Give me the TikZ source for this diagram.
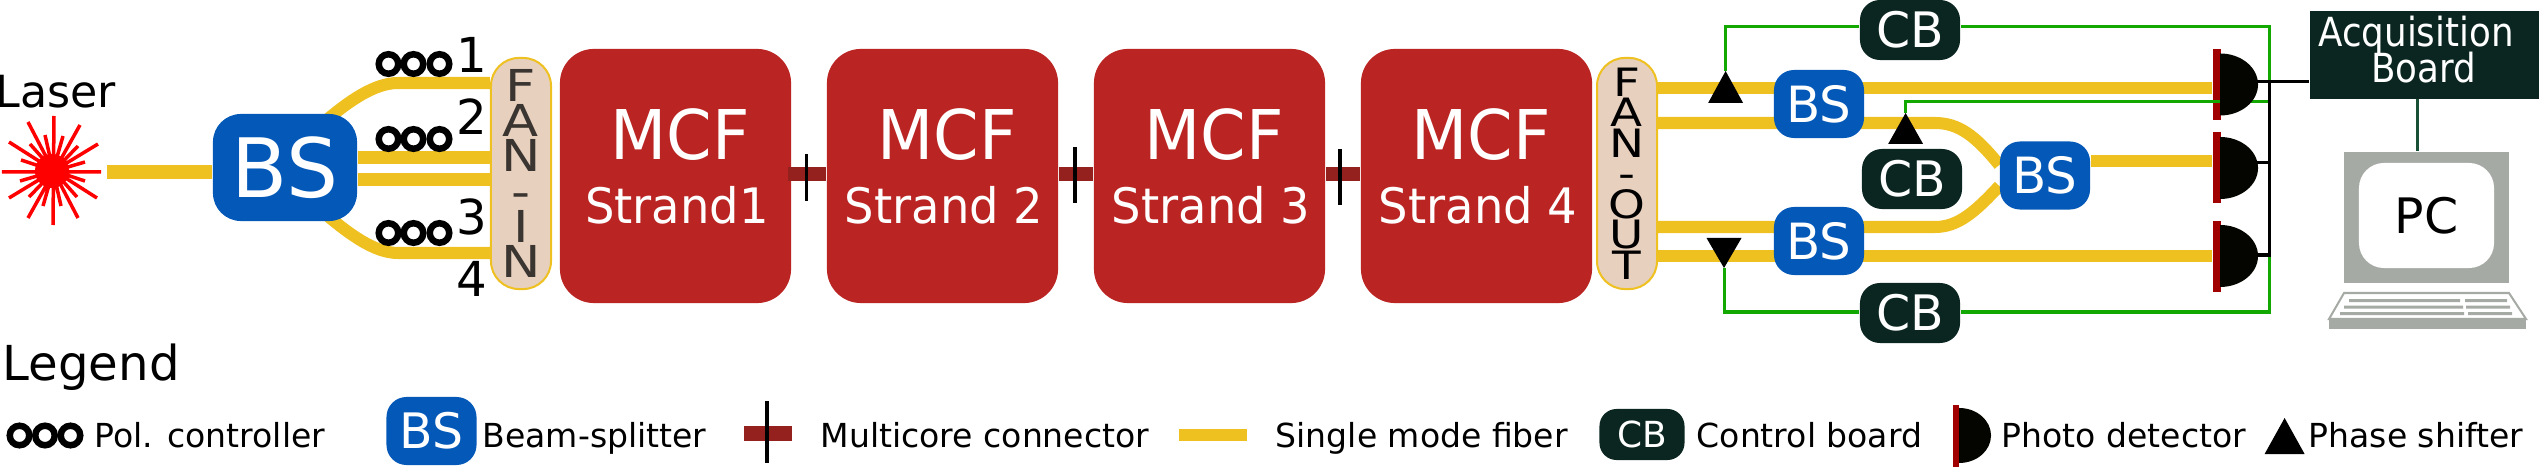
\documentclass[tikz,border=0pt]{standalone}
\usepackage{fontspec}
\setmainfont{DejaVu Sans}
\newfontfamily\acqfont{DejaVu Sans}[FakeStretch=0.89]
\newfontfamily\mcffont{DejaVu Sans}[FakeStretch=0.95]
\newfontfamily\fanfont{DejaVu Sans}[FakeStretch=1.2]
\usetikzlibrary{backgrounds}

\definecolor{fibercol}{HTML}{EEC020}
\definecolor{bscol}{HTML}{0358B8}
\definecolor{mcfcol}{HTML}{BA2422}
\definecolor{mcccol}{HTML}{95211E}
\definecolor{cbcol}{HTML}{0B2620}
\definecolor{fancol}{HTML}{E8D0BF}
\definecolor{fantext}{HTML}{3A3530}
\definecolor{ctrlcol}{HTML}{12A800}
\definecolor{barcol}{HTML}{A00000}
\definecolor{pdcol}{HTML}{050500}
\definecolor{pccol}{HTML}{A6AAA4}
\definecolor{linkcol}{HTML}{1A5035}

\tikzset{
  fiber/.style={draw=fibercol, line width=.12cm},
  ctrl/.style={draw=ctrlcol, line width=.03cm},
  sig/.style={draw=black, line width=.03cm},
  mcc/.style={draw=mcccol, line width=.14cm},
  ring/.style={circle, draw=black, line width=.065cm, minimum size=.195cm, inner sep=0pt},
  bsbox/.style={fill=bscol, text=white, rounded corners=.2cm, inner sep=0pt, minimum width=.9cm, minimum height=.68cm, font=\fontsize{14.2}{17}\selectfont},
  cbbox/.style={fill=cbcol, text=white, rounded corners=.2cm, inner sep=0pt, minimum width=1cm, minimum height=.6cm, font=\fontsize{13.9}{17}\selectfont},
  mcfbox/.style={fill=mcfcol, rounded corners=.34cm, inner sep=0pt, minimum width=2.31cm, minimum height=2.54cm},
  mcftop/.style={text=white, anchor=base, inner sep=0pt, font=\mcffont\fontsize{19.5}{23}\selectfont},
  mcfbot/.style={text=white, anchor=base, inner sep=0pt, font=\mcffont\fontsize{13.9}{17}\selectfont},
  mcmark/.style={fill=black, inner sep=0pt, minimum width=.035cm},
  fanbox/.style={draw=fibercol, fill=fancol, text=fantext, line width=.02cm, rounded corners=.28cm, inner sep=0pt, align=center, minimum height=2.31cm},
  barbox/.style={fill=barcol, inner sep=0pt, minimum width=.08cm, minimum height=.71cm},
  numlab/.style={anchor=base, inner sep=0pt, font=\fontsize{13.7}{16}\selectfont},
  leglab/.style={anchor=base west, inner sep=0pt, font=\fontsize{9.4}{11}\selectfont},
  acqlab/.style={anchor=base, text=white, inner sep=0pt, font=\acqfont\fontsize{11.4}{14}\selectfont},
  raybig/.style={draw=red, line width=.035cm},
}

\begin{document}
\begin{tikzpicture}[x=.01cm, y=-.01cm]
    \useasboundingbox (0,0) rectangle (2539,467);

    % laser
    \node[anchor=base west, inner sep=0pt, font=\fontsize{12.6}{15}\selectfont] (laserlab) at (-5,108) {Laser};
    \node[circle, fill=red, inner sep=0pt, minimum size=.34cm] (laser) at (52,171) {};
    \draw[raybig] (54,116) -- (53,225) (2,172) -- (101,172)
        (28,122) -- (78,218) (80,125) -- (28,218)
        (9,142) -- (97,198) (98,144) -- (9,198)
        (45,135) -- (61,206) (63,136) -- (43,206)
        (30,144) -- (77,197) (78,146) -- (29,197)
        (21,160) -- (85,181) (85,162) -- (20,181);
    \coordinate (laserout) at (107,172);

    % input side
    \node[bsbox, minimum width=1.44cm, minimum height=1.07cm, rounded corners=.28cm, font=\fontsize{23.3}{27}\selectfont] (bs0) at (285,167.5) {BS};
    \node[fanbox, minimum width=.6cm, font=\fanfont\fontsize{12.5}{10}\selectfont] (fin) at (521,173.5) {F\\A\\N\\-\\I\\N};

    \node[ring] (pol1a) at (388.5,64) {};
    \node[ring] (pol1b) at (413.5,64) {};
    \node[ring] (pol1c) at (439.5,64) {};
    \node[ring] (pol2a) at (388.5,139) {};
    \node[ring] (pol2b) at (413.5,139) {};
    \node[ring] (pol2c) at (439.5,139) {};
    \node[ring] (pol3a) at (388.5,233) {};
    \node[ring] (pol3b) at (413.5,233) {};
    \node[ring] (pol3c) at (439.5,233) {};

    \node[numlab] (num1) at (472,73) {1};
    \node[numlab] (num2) at (472,135) {2};
    \node[numlab] (num3) at (472,235) {3};
    \node[numlab] (num4) at (472,297) {4};

    % fiber strands
    \node[mcfbox] (mcf1) at (675.5,176) {};
    \node[mcfbox] (mcf2) at (942.5,176) {};
    \node[mcfbox] (mcf3) at (1209.5,176) {};
    \node[mcfbox] (mcf4) at (1476.5,176) {};
    \node[mcftop] (top1) at (680,160) {MCF};
    \node[mcftop] (top2) at (947,160) {MCF};
    \node[mcftop] (top3) at (1214,160) {MCF};
    \node[mcftop] (top4) at (1481,160) {MCF};
    \node[mcfbot] (bot1) at (677,224) {Strand1};
    \node[mcfbot] (bot2) at (944,224) {Strand 2};
    \node[mcfbot] (bot3) at (1211,224) {Strand 3};
    \node[mcfbot] (bot4) at (1478,224) {Strand 4};

    \draw[mcc] ([xshift=-.04cm]mcf1.east |- 0,174) -- (mcf2.west |- 0,174);
    \draw[mcc] (mcf2.east |- 0,174) -- (mcf3.west |- 0,174);
    \draw[mcc] (mcf3.east |- 0,174) -- (mcf4.west |- 0,174);

    \node[mcmark, minimum height=.47cm] (mark1) at (806.5,177.5) {};
    \node[mcmark, minimum height=.56cm] (mark2) at (1075,175) {};
    \node[mcmark, minimum height=.56cm] (mark3) at (1340,177) {};

    % output side
    \node[fanbox, minimum width=.6cm, text=black, font=\fanfont\fontsize{11.1}{8.68}\selectfont] (fout) at (1627,173.5) {F\\A\\N\\-\\O\\U\\T};
    \node[bsbox] (bs1) at (1819,104) {BS};
    \node[bsbox] (bs2) at (1819,241) {BS};
    \node[bsbox] (bs3) at (2045,175.5) {BS};
    \node[cbbox] (cb1) at (1910,30) {CB};
    \node[cbbox] (cb2) at (1912,179) {CB};
    \node[cbbox] (cb3) at (1910,313) {CB};

    \node[barbox] (bar1) at (2216.5,84.5) {};
    \node[barbox] (bar2) at (2216.5,167.5) {};
    \node[barbox] (bar3) at (2216.5,256.5) {};

    \coordinate (ps1) at (1725.6,71);
    \coordinate (ps2) at (1905.6,113);
    \coordinate (ps3) at (1724,268);
    \coordinate (bustop) at (2269,27);
    \coordinate (busmid) at (2269,102);
    \coordinate (busbot) at (2269,312);
    \coordinate (pd1) at (2257,81.7);
    \coordinate (pd2) at (2257,163);
    \coordinate (pd3) at (2257,255);

    \draw[ctrl] (ps1) -- (ps1 |- bustop) -- (cb1.west |- bustop);
    \draw[ctrl] (cb1.east |- bustop) -- (bustop) -- (busbot) -- (cb3.east |- busbot);
    \draw[ctrl] (ps3) -- (ps3 |- busbot) -- (cb3.west |- busbot);
    \draw[ctrl] (ps2) -- (ps2 |- busmid) -- (busmid);

    \fill (ps1) -- ++(-17.5,32) -- ++(35,0) -- cycle;
    \fill (ps2) -- ++(-17.5,31) -- ++(35,0) -- cycle;
    \fill (ps3) -- ++(-17.5,-30) -- ++(35,0) -- cycle;

    \fill[pdcol] (2220,115.5) arc[start angle=-90, end angle=90, x radius=.38cm, y radius=.31cm] -- cycle;
    \fill[pdcol] (2220,199) arc[start angle=-90, end angle=90, x radius=.38cm, y radius=.31cm] -- cycle;
    \fill[pdcol] (2220,287) arc[start angle=-90, end angle=90, x radius=.38cm, y radius=.31cm] -- cycle;

    % acquisition and pc
    \node[fill=cbcol, inner sep=0pt, minimum width=2.29cm, minimum height=.88cm] (acq) at (2424.5,55) {};
    \node[acqlab] (acq1) at (2416,47) {Acquisition};
    \node[acqlab] (acq2) at (2423.5,83) {Board};
    \draw[sig] (pd1) -- (acq.west |- pd1);
    \draw[sig] (pd3) -- (pd3 -| bustop) -- (bustop |- pd1);
    \draw[sig] (pd2) -- (pd2 -| bustop);

    \node[fill=pccol, inner sep=0pt, minimum width=1.65cm, minimum height=1.31cm] (mon) at (2426.5,217.5) {};
    \node[fill=white, rounded corners=.25cm, inner sep=0pt, minimum width=1.35cm, minimum height=1.05cm, font=\fontsize{13.9}{17}\selectfont] (scr) at (2426.5,215.5) {PC};
    \coordinate (pclink) at (2417.5,99);
    \draw[draw=linkcol, line width=.03cm] (pclink) -- (pclink |- mon.north);

    \draw[pccol, line width=.02cm] (2344,293) -- (2509,293) -- (2526,319) -- (2329,319) -- cycle;
    \fill[pccol] (2329,319) rectangle (2526,329);
    \fill[pccol] (2349,299) rectangle (2460,302) (2465,299) rectangle (2507,302);
    \fill[pccol] (2344,305.5) rectangle (2463,308.5) (2466,305.5) rectangle (2510,308.5);
    \fill[pccol] (2340,312) rectangle (2464,315) (2468,312) rectangle (2512,315);

    % fibers go behind the boxes
    \begin{pgfonlayer}{background}
        \draw[fiber, line width=.14cm] (laserout) -- (bs0.west |- laserout);
        \draw[fiber] ([xshift=-.35cm,yshift=-.1cm]bs0.north east) .. controls (350,100) and (375,83) .. (398,83) -- (fin.west |- 0,83);
        \draw[fiber] (bs0.east |- 0,157.5) -- (fin.west |- 0,157.5);
        \draw[fiber] (bs0.east |- 0,179.5) -- (fin.west |- 0,179.5);
        \draw[fiber] ([xshift=-.35cm,yshift=.1cm]bs0.south east) .. controls (350,235) and (375,253) .. (398,253) -- (fin.west |- 0,253);

        \draw[fiber] (fout.east |- 0,88) -- (bar1.west |- 0,88);
        \draw[fiber] (fout.east |- 0,123) -- (1935,123) .. controls (1958,123) and (1975,135) .. (bs3.west |- 0,165);
        \draw[fiber] (fout.east |- 0,227) -- (1935,227) .. controls (1958,227) and (1975,212) .. (bs3.west |- 0,186);
        \draw[fiber] (fout.east |- 0,256) -- (bar3.west |- 0,256);
        \draw[fiber] (bs3.east |- 0,161) -- (bar2.west |- 0,161);
    \end{pgfonlayer}

    % legend
    \node[anchor=base west, inner sep=0pt, font=\fontsize{13.7}{16}\selectfont] (legend) at (2,380) {Legend};

    \node[ring] (lpola) at (19.5,435.5) {};
    \node[ring] (lpolb) at (45,435.5) {};
    \node[ring] (lpolc) at (70.5,435.5) {};
    \node[leglab] (lab1) at (94,447) {Pol. controller};

    \node[bsbox, font=\fontsize{13.9}{17}\selectfont] (lbs) at (431.5,431) {BS};
    \node[leglab] (lab2) at (482,447) {Beam-splitter};

    \node[fill=mcccol, inner sep=0pt, minimum width=.48cm, minimum height=.15cm] (lmcc) at (768,433.5) {};
    \node[mcmark, minimum height=.62cm] (lmark) at (767,432) {};
    \node[leglab] (lab3) at (820,447) {Multicore connector};

    \node[fill=fibercol, inner sep=0pt, minimum width=.68cm, minimum height=.12cm] (lfib) at (1213,435) {};
    \node[leglab] (lab4) at (1275,447) {Single mode fiber};

    \node[cbbox, minimum width=.85cm, minimum height=.51cm, rounded corners=.17cm, font=\fontsize{10.2}{13}\selectfont] (lcb) at (1642,434.5) {CB};
    \node[leglab] (lab5) at (1696,447) {Control board};

    \node[barbox, minimum width=.065cm, minimum height=.62cm] (lbar) at (1956,436) {};
    \fill[pdcol] (1959,463) arc[start angle=-90, end angle=90, x radius=.32cm, y radius=.275cm] -- cycle;
    \node[leglab] (lab6) at (2001,447) {Photo detector};

    \coordinate (lps) at (2284.6,418);
    \fill (lps) -- ++(-20,36) -- ++(40,0) -- cycle;
    \node[leglab] (lab7) at (2308,447) {Phase shifter};
\end{tikzpicture}
\end{document}
